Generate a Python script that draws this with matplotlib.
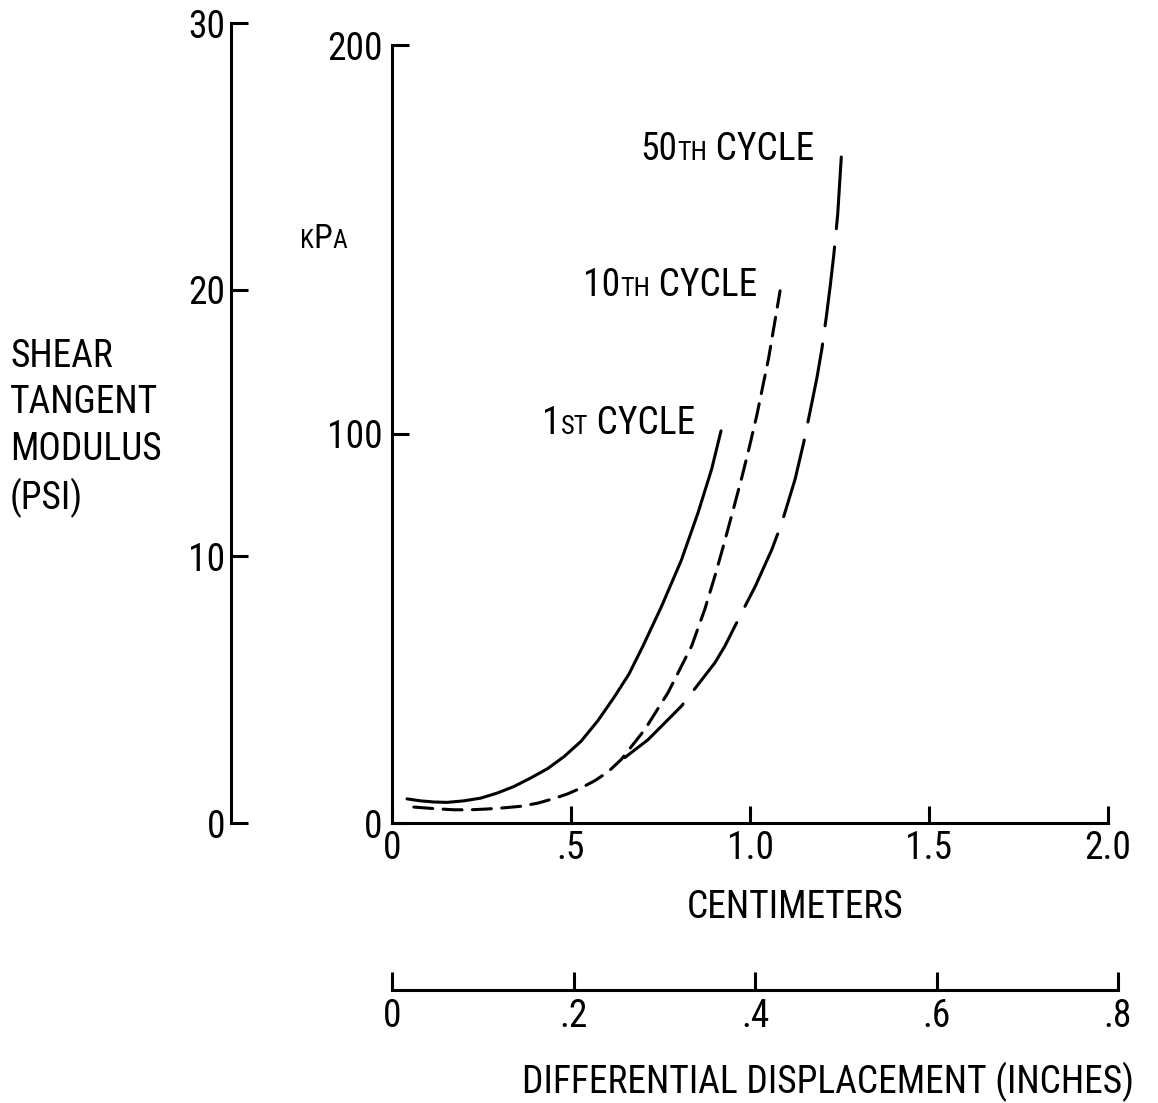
import matplotlib
matplotlib.use("Agg")
import matplotlib.pyplot as plt
from matplotlib import font_manager as fm

# Displacement (cm) and shear tangent modulus (kPa) for each load cycle
first_x = [0.042, 0.079, 0.117, 0.154, 0.201, 0.248, 0.294, 0.341, 0.388, 0.435,
           0.481, 0.528, 0.575, 0.621, 0.662, 0.701, 0.752, 0.808, 0.855, 0.893, 0.919]
first_y = [6.2, 5.7, 5.4, 5.3, 5.7, 6.4, 7.7, 9.4, 11.6, 14.0,
           17.1, 21.0, 26.3, 32.4, 38.3, 45.5, 55.5, 67.5, 79.8, 91.0, 100.8]

tenth_x = [0.061, 0.117, 0.173, 0.220, 0.266, 0.313, 0.360, 0.407, 0.453, 0.491,
           0.528, 0.565, 0.603, 0.640, 0.706, 0.771, 0.837, 0.874, 0.902, 0.925,
           0.953, 0.977, 0.996, 1.019, 1.052, 1.084]
tenth_y = [4.1, 3.7, 3.4, 3.4, 3.6, 3.9, 4.3, 5.1, 6.3, 7.5,
           9.0, 10.8, 13.1, 16.3, 24.0, 33.5, 45.5, 55.0, 63.5, 71.0,
           80.5, 88.8, 95.8, 104.8, 119.5, 136.8]

fiftieth_x = [0.650, 0.715, 0.808, 0.902, 0.930, 0.977, 1.014, 1.061, 1.089, 1.126,
              1.150, 1.175, 1.187, 1.201, 1.213, 1.224, 1.234, 1.245, 1.255]
fiftieth_y = [16.8, 21.4, 30.0, 41.2, 45.5, 54.1, 60.7, 70.3, 77.2, 88.4,
              97.8, 109.0, 114.5, 122.0, 130.0, 138.0, 146.0, 156.5, 171.2]

cm_ticks = [0, 0.5, 1.0, 1.5, 2.0]
cm_labels = ["0", ".5", "1.0", "1.5", "2.0"]
kpa_ticks = [0, 100, 200]
psi_ticks = [0, 10, 20, 30]
inch_ticks = [0, 0.2, 0.4, 0.6, 0.8]
inch_labels = ["0", ".2", ".4", ".6", ".8"]


def narrow_family():
    # prefer a condensed face for the lettering; fall back to DejaVu Sans
    for name in ["Roboto Condensed", "Noto Sans Condensed", "Open Sans Condensed",
                 "Liberation Sans Narrow", "Arial Narrow", "DejaVu Sans Condensed"]:
        try:
            fm.findfont(fm.FontProperties(family=name), fallback_to_default=False)
            return name, "normal", True
        except ValueError:
            pass
    for name in ["Noto Sans", "Roboto", "DejaVu Sans"]:
        try:
            path = fm.findfont(fm.FontProperties(family=name, stretch="condensed"),
                               fallback_to_default=False)
            if "ondensed" in path or "arrow" in path:
                return name, "condensed", True
        except ValueError:
            pass
    return "DejaVu Sans", "normal", False


FONT, STRETCH, NARROW = narrow_family()
plt.rcParams["font.family"] = [FONT, "DejaVu Sans"]
plt.rcParams["font.stretch"] = STRETCH

W, H = 1158, 1103
fig = plt.figure(figsize=(W / 100, H / 100), dpi=100)
fig.patch.set_facecolor("white")

LW = 2.2
FS = 27 if NARROW else 22


def fx(px):
    return px / W


def fy(py):
    return 1 - py / H


def strip(ax, keep):
    for side in ("left", "right", "top", "bottom"):
        ax.spines[side].set_visible(side in keep)
        ax.spines[side].set_linewidth(LW)
    ax.patch.set_visible(False)


# main axes: kPa against centimeters
ax = fig.add_axes([fx(392), fy(823), fx(1108 - 392), (823 - 45) / H])
strip(ax, ("left", "bottom"))
ax.set_xlim(0, 2.0)
ax.set_ylim(0, 200)
ax.set_xticks(cm_ticks)
ax.set_xticklabels(cm_labels)
ax.set_yticks(kpa_ticks)
ax.tick_params(axis="both", direction="in", length=12, width=LW, labelsize=FS, pad=5)
ax.tick_params(axis="y", pad=7)

ax.plot(first_x, first_y, color="black", lw=LW, solid_capstyle="round",
        solid_joinstyle="round")
ax.plot(tenth_x, tenth_y, color="black", lw=LW, dashes=[6.2, 3.4],
        dash_capstyle="round", dash_joinstyle="round")
ax.plot(fiftieth_x, fiftieth_y, color="black", lw=LW, dashes=[26, 6],
        dash_capstyle="round", dash_joinstyle="round")

# psi axis
ax_psi = fig.add_axes([fx(231), fy(823), 0.02, (823 - 23) / H])
strip(ax_psi, ("left",))
ax_psi.set_ylim(0, 30)
ax_psi.set_yticks(psi_ticks)
ax_psi.set_xticks([])
ax_psi.tick_params(axis="y", direction="in", length=12, width=LW, labelsize=FS, pad=4)

# inch axis
ax_in = fig.add_axes([fx(392), fy(990), fx(1118 - 392), 0.02])
strip(ax_in, ("bottom",))
ax_in.set_xlim(0, 0.8)
ax_in.set_xticks(inch_ticks)
ax_in.set_xticklabels(inch_labels)
ax_in.set_yticks([])
ax_in.tick_params(axis="x", direction="in", length=13, width=LW, labelsize=FS, pad=6)

fig.text(fx(795), fy(907), "CENTIMETERS", fontsize=FS, ha="center", va="center")
fig.text(fx(828), fy(1082), "DIFFERENTIAL DISPLACEMENT (INCHES)", fontsize=FS,
         ha="center", va="center")
fig.text(fx(10), fy(428), "SHEAR\nTANGENT\nMODULUS\n(PSI)", fontsize=FS,
         ha="left", va="center", linespacing=1.33)

renderer = fig.canvas.get_renderer()


def write_parts(x, y, parts):
    # lay out mixed-size pieces side by side on one baseline
    for s, size in parts:
        t = ax.text(x, y, s, fontsize=size, ha="left", va="baseline")
        bb = t.get_window_extent(renderer)
        x = ax.transData.inverted().transform((bb.x1, bb.y0))[0]


SMALL = FS * 0.7
write_parts(0.693, 170.4, [("50", FS), ("TH", SMALL), (" CYCLE", FS)])
write_parts(0.534, 135.6, [("10", FS), ("TH", SMALL), (" CYCLE", FS)])
write_parts(0.419, 100.1, [("1", FS), ("ST", SMALL), (" CYCLE", FS)])
write_parts(-0.257, 147.7, [("K", FS * 0.68), ("P", FS * 0.9), ("A", FS * 0.68)])

fig.savefig("out.png", dpi=100, facecolor="white")
